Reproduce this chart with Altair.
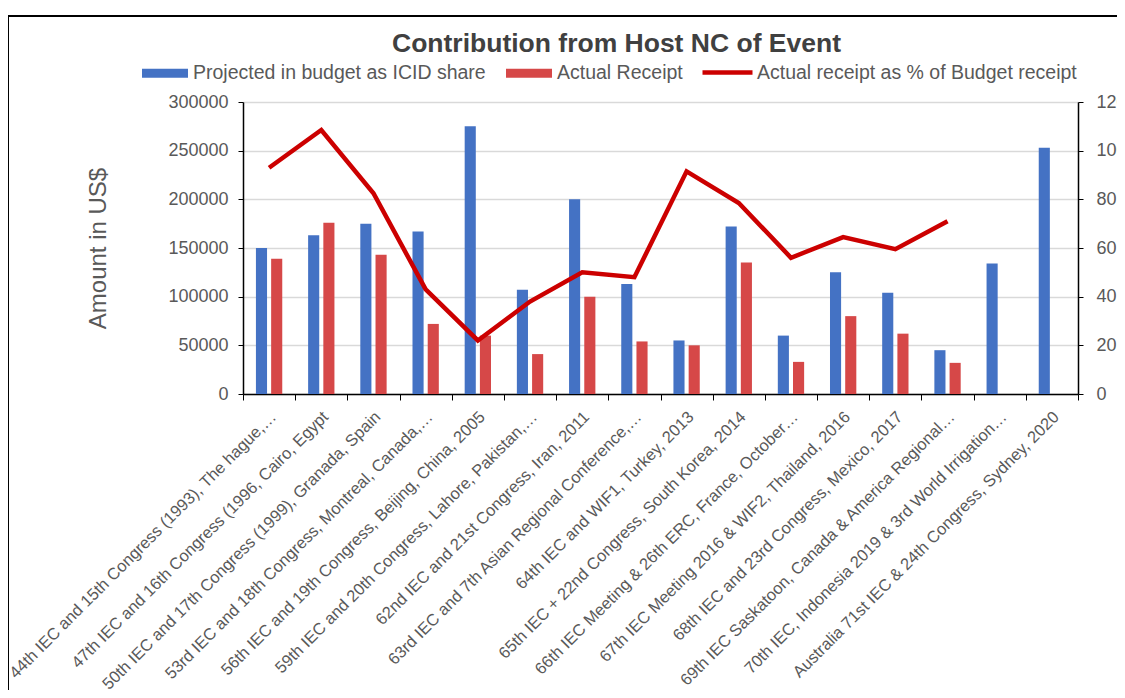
import altair as alt
import pandas as pd

events = [
    "44th IEC and 15th Congress (1993), The hague,…",
    "47th IEC and 16th Congress (1996, Cairo, Egypt",
    "50th IEC and 17th Congress (1999), Granada, Spain",
    "53rd IEC and 18th  Congress, Montreal, Canada,…",
    "56th IEC and 19th  Congress, Beijing, China, 2005",
    "59th IEC and 20th Congress, Lahore, Pakistan,…",
    "62nd IEC and 21st Congress, Iran, 2011",
    "63rd IEC and 7th Asian Regional Conference,…",
    "64th IEC and WIF1, Turkey, 2013",
    "65th IEC + 22nd Congress, South Korea, 2014",
    "66th IEC Meeting & 26th ERC, France, October…",
    "67th IEC Meeting 2016 & WIF2, Thailand, 2016",
    "68th IEC and 23rd Congress, Mexico, 2017",
    "69th IEC Saskatoon, Canada & America Regional…",
    "70th IEC, Indonesia 2019 & 3rd World Irrigation…",
    "Australia 71st IEC & 24th Congress, Sydney, 2020",
]
projected = [150000, 163000, 175000, 167000, 275000, 107000, 200000, 113000,
             55000, 172000, 60000, 125000, 104000, 45000, 134000, 253000]
actual = [139000, 176000, 143000, 72000, 60000, 41000, 100000, 54000,
          50000, 135000, 33000, 80000, 62000, 32000, None, None]
pct = [93, 108.5, 82.5, 43, 22, 38, 50, 48, 91.5, 78.5, 56, 64.5, 59.5, 71, None, None]

S1 = "Projected in budget as ICID share"
S2 = "Actual Receipt"
S3 = "Actual receipt as % of Budget receipt"

df = pd.DataFrame({"event": events, S1: projected, S2: actual, "pct": pct})

FONT = "Liberation Sans"
GREY = "#595959"

x_enc = alt.X(
    "event:N", sort=events, title=None,
    scale=alt.Scale(paddingInner=0, paddingOuter=0),
    axis=alt.Axis(labelAngle=-45, labelAlign="right", labelBaseline="middle",
                  labelFontSize=16.5, labelColor=GREY, labelLimit=600,
                  labelOverlap=False, labelPadding=14, labelOffset=4,
                  tickBand="extent", tickSize=6, tickColor="black",
                  domainColor="black", domainWidth=1.5, grid=False),
)

bars = alt.Chart(df).transform_fold([S1, S2], as_=["series", "value"]).mark_bar().encode(
    x=x_enc,
    xOffset=alt.XOffset("series:N", sort=[S1, S2],
                        scale=alt.Scale(domain=[S1, S2], paddingInner=0.27, paddingOuter=0.85)),
    y=alt.Y("value:Q", title="Amount in US$",
            scale=alt.Scale(domain=[0, 300000], nice=False),
            axis=alt.Axis(values=[0, 50000, 100000, 150000, 200000, 250000, 300000],
                          format="d", labelFontSize=18, labelColor=GREY, labelPadding=10,
                          tickSize=5, tickColor="black", domainColor="black", domainWidth=1.5,
                          gridColor="#D9D9D9", gridWidth=1.5,
                          titleFontSize=24, titleFontWeight="normal", titleColor=GREY,
                          titleX=-145, titleY=146, titleAlign="center", titleBaseline="middle")),
    color=alt.Color("series:N", title=None,
                    scale=alt.Scale(domain=[S1, S2], range=["#4472C4", "#D64848"]),
                    legend=alt.Legend(orient="none", legendX=-101, legendY=-52,
                                      direction="horizontal",
                                      symbolType="M-1,-0.2H1V0.2H-1Z", symbolSize=2116,
                                      symbolStrokeWidth=0,
                                      labelFontSize=19.5, labelColor=GREY, labelOffset=5,
                                      columnPadding=20, labelLimit=500)),
)

line = alt.Chart(df).transform_calculate(s=f"'{S3}'").mark_line(strokeWidth=4.5).encode(
    x=alt.X("event:N", sort=events),
    y=alt.Y("pct:Q", title=None,
            scale=alt.Scale(domain=[0, 120], nice=False),
            axis=alt.Axis(orient="right", values=[0, 20, 40, 60, 80, 100, 120],
                          labelFontSize=18, labelColor=GREY, labelPadding=13,
                          tickSize=5, tickColor="black", domainColor="black", domainWidth=1.5,
                          grid=False)),
    color=alt.Color("s:N", title=None,
                    scale=alt.Scale(domain=[S3], range=["#CC0000"]),
                    legend=alt.Legend(orient="none", legendX=457, legendY=-57,
                                      symbolType="stroke", symbolSize=2500, symbolStrokeWidth=4.5,
                                      labelFontSize=19.5, labelColor=GREY, labelOffset=2,
                                      labelLimit=500)),
)

frame_left = alt.Chart(df).mark_rule(color="black", strokeWidth=2).encode(
    x=alt.value(-235), y=alt.value(-86), y2=alt.value(600))
frame_top = alt.Chart(df).mark_rule(color="black", strokeWidth=2).encode(
    x=alt.value(-235), x2=alt.value(900), y=alt.value(-86))

chart = alt.layer(bars, line, frame_left, frame_top).resolve_scale(
    y="independent", color="independent"
).properties(
    width=835, height=292,
    autosize=alt.AutoSizeParams(type="none"),
    padding={"left": 235, "top": 94, "right": 39, "bottom": 296},
    title=alt.TitleParams("Contribution from Host NC of Event", fontSize=26.5, fontWeight="bold",
                          color="#404040", anchor="middle", dx=-44, offset=0, dy=42, font=FONT),
    background="white",
).configure(font=FONT).configure_view(stroke=None)

chart.save("out.html", embed_options={"renderer": "svg", "actions": False})
